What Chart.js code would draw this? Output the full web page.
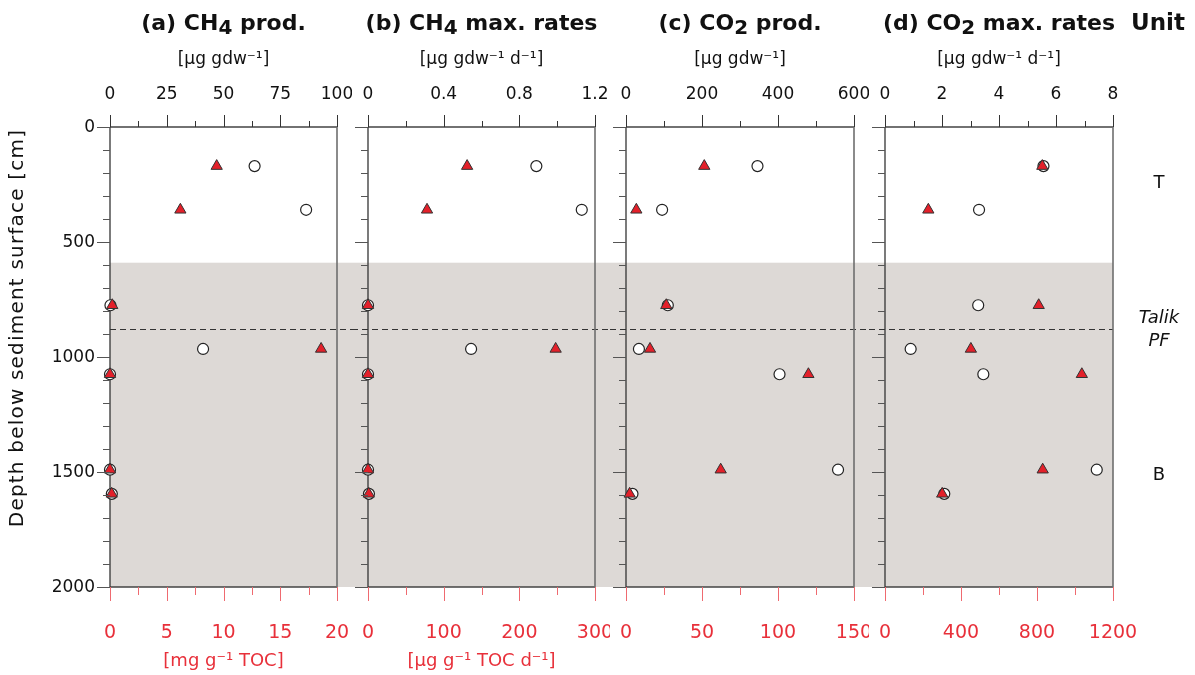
<!DOCTYPE html>
<html>
<head>
<meta charset="utf-8">
<script src="https://cdn.jsdelivr.net/npm/chart.js@4.4.1/dist/chart.umd.min.js"></script>
<style>
  body { margin: 0; background: #fff; }
  #wrap { position: relative; width: 1195px; height: 675px; overflow: hidden; }
  #wrap canvas { position: absolute; top: 0; }
</style>
</head>
<body>
<div id="wrap"></div>
<script>
// sample depths [cm]
var depths = [170, 360, 775, 965, 1075, 1490, 1595];

// open circles -> top axis (per g dry weight), red triangles -> bottom axis (per g TOC)
var ch4ProdGdw = [63.7, 86.4, 0.2, 41, 0, 0, 0.8];
var ch4ProdToc = [9.4, 6.2, 0.2, 18.6, 0, 0, 0.15];
var ch4RateGdw = [0.89, 1.13, 0, 0.545, 0, 0, 0.005];
var ch4RateToc = [131, 78, 0, 248, 0, 0, 1];
var co2ProdGdw = [346, 95, 110, 34, 404, 558, 17];
var co2ProdToc = [51.5, 6.8, 26.5, 15.8, 120, 62.3, 2.4];
var co2RateGdw = [5.56, 3.30, 3.27, 0.90, 3.45, 7.43, 2.08];
var co2RateToc = [828, 228, 809, 452, 1036, 830, 301];

// zones
var talikBase = 590;     // shaded from here down
var pfBoundary = 880;    // dashed line
var maxDepth = 2000;

// ticks
var depthMajor = [0, 500, 1000, 1500, 2000];
var depthMinor = [100, 200, 300, 400, 600, 700, 800, 900, 1100, 1200, 1300, 1400, 1600, 1700, 1800, 1900];
var topMax = [100, 1.2, 600, 8];
var topMajor = [[0, 25, 50, 75, 100], [0, 0.4, 0.8, 1.2], [0, 200, 400, 600], [0, 2, 4, 6, 8]];
var topMinor = [[12.5, 37.5, 62.5, 87.5], [0.2, 0.6, 1.0], [100, 300, 500], [1, 3, 5, 7]];
var botMax = [20, 300, 150, 1200];
var botMajor = [[0, 5, 10, 15, 20], [0, 100, 200, 300], [0, 50, 100, 150], [0, 400, 800, 1200]];
var botMinor = [[2.5, 7.5, 12.5, 17.5], [50, 150, 250], [25, 75, 125], [200, 600, 1000]];

var titles = [['(a) CH', '4', ' prod.'], ['(b) CH', '4', ' max. rates'], ['(c) CO', '2', ' prod.'], ['(d) CO', '2', ' max. rates']];
var topUnits = ['[µg gdw⁻¹]', '[µg gdw⁻¹ d⁻¹]', '[µg gdw⁻¹]', '[µg gdw⁻¹ d⁻¹]'];
var botUnits = ['[mg g⁻¹ TOC]', '[µg g⁻¹ TOC d⁻¹]', '', ''];
var zoneLabels = [['T', 245, false], ['Talik', 830, true], ['PF', 932, true], ['B', 1515, false]];

var gdwSeries = [ch4ProdGdw, ch4RateGdw, co2ProdGdw, co2RateGdw];
var tocSeries = [ch4ProdToc, ch4RateToc, co2ProdToc, co2RateToc];

// page layout of the four panels
var canvasLeft = [0, 352, 610, 869];
var canvasRight = [352, 610, 869, 1195];
var panelLeft = [110, 368, 626, 885];
var panelRight = [337, 595, 854, 1113];

var FONT = "'DejaVu Sans', sans-serif";
var RED = '#e8303a';
var RED_TICK = '#ef6a70';

function pts(xs) {
    return xs.map(function (v, i) { return { x: v, y: depths[i] }; });
}

function fmt(v) { return String(v); }

var panelPlugin = {
    id: 'panelPlugin',
    beforeDatasetsDraw: function (chart) {
        var p = chart.options.plugins.panelPlugin;
        var ctx = chart.ctx, a = chart.chartArea, y = chart.scales.y;
        var bl = p.index === 0 ? a.left : 0;
        var br = p.index === 3 ? a.right : chart.width;
        ctx.save();
        // shaded talik/PF zone
        ctx.fillStyle = '#ddd9d6';
        var yt = y.getPixelForValue(talikBase), yb = y.getPixelForValue(maxDepth);
        ctx.fillRect(bl, yt, br - bl, yb - yt);
        // dashed boundary
        ctx.strokeStyle = '#333';
        ctx.lineWidth = 1;
        ctx.setLineDash([6, 4]);
        var yd = Math.round(y.getPixelForValue(pfBoundary)) + 0.5;
        ctx.beginPath(); ctx.moveTo(bl, yd); ctx.lineTo(br, yd); ctx.stroke();
        ctx.setLineDash([]);
        // frame
        ctx.lineWidth = 1.3;
        ctx.strokeStyle = '#444';
        ctx.beginPath();
        ctx.moveTo(a.left, a.top); ctx.lineTo(a.right, a.top);
        ctx.moveTo(a.left, a.bottom); ctx.lineTo(a.right, a.bottom);
        ctx.stroke();
        ctx.strokeStyle = '#333';
        ctx.beginPath(); ctx.moveTo(a.left, a.top); ctx.lineTo(a.left, a.bottom); ctx.stroke();
        ctx.strokeStyle = '#6e6e6e';
        ctx.lineWidth = 1.6;
        ctx.beginPath(); ctx.moveTo(a.right, a.top); ctx.lineTo(a.right, a.bottom); ctx.stroke();
        ctx.restore();
    },
    afterDraw: function (chart) {
        var p = chart.options.plugins.panelPlugin;
        var i = p.index;
        var ctx = chart.ctx, a = chart.chartArea;
        var y = chart.scales.y, xt = chart.scales.xTop, xb = chart.scales.xBot;
        var cx = (a.left + a.right) / 2;
        ctx.save();
        ctx.lineWidth = 1;

        // depth ticks
        ctx.strokeStyle = '#555';
        ctx.beginPath();
        depthMinor.forEach(function (d) {
            var py = Math.round(y.getPixelForValue(d)) + 0.5;
            ctx.moveTo(a.left - 7, py); ctx.lineTo(a.left, py);
        });
        depthMajor.forEach(function (d) {
            var py = Math.round(y.getPixelForValue(d)) + 0.5;
            ctx.moveTo(a.left - 13, py); ctx.lineTo(a.left, py);
        });
        ctx.stroke();
        if (i === 0) {
            ctx.fillStyle = '#111';
            ctx.font = '17px ' + FONT;
            ctx.textAlign = 'right';
            ctx.textBaseline = 'middle';
            depthMajor.forEach(function (d) {
                ctx.fillText(fmt(d), a.left - 15, y.getPixelForValue(d) + 1);
            });
            ctx.save();
            ctx.translate(18, 328);
            ctx.rotate(-Math.PI / 2);
            ctx.textAlign = 'center';
            ctx.font = '20px ' + FONT;
            ctx.letterSpacing = '1.2px';
            ctx.fillText('Depth below sediment surface [cm]', 0, 0);
            ctx.restore();
        }

        // top axis
        ctx.strokeStyle = '#333';
        ctx.beginPath();
        topMinor[i].forEach(function (v) {
            var px = Math.round(xt.getPixelForValue(v)) + 0.5;
            ctx.moveTo(px, a.top); ctx.lineTo(px, a.top - 6);
        });
        topMajor[i].forEach(function (v) {
            var px = Math.round(xt.getPixelForValue(v)) + 0.5;
            ctx.moveTo(px, a.top); ctx.lineTo(px, a.top - 12);
        });
        ctx.stroke();
        ctx.fillStyle = '#111';
        ctx.font = '17px ' + FONT;
        ctx.textAlign = 'center';
        ctx.textBaseline = 'middle';
        topMajor[i].forEach(function (v) {
            ctx.fillText(fmt(v), xt.getPixelForValue(v), 95);
        });
        ctx.font = '17px ' + FONT;
        ctx.fillText(topUnits[i], cx, 60);

        // bottom (red) axis
        ctx.strokeStyle = RED_TICK;
        ctx.beginPath();
        botMinor[i].forEach(function (v) {
            var px = Math.round(xb.getPixelForValue(v)) + 0.5;
            ctx.moveTo(px, a.bottom); ctx.lineTo(px, a.bottom + 8);
        });
        botMajor[i].forEach(function (v) {
            var px = Math.round(xb.getPixelForValue(v)) + 0.5;
            ctx.moveTo(px, a.bottom); ctx.lineTo(px, a.bottom + 14);
        });
        ctx.stroke();
        ctx.fillStyle = RED;
        ctx.font = '19px ' + FONT;
        botMajor[i].forEach(function (v) {
            ctx.fillText(fmt(v), xb.getPixelForValue(v), 633);
        });
        if (botUnits[i]) {
            ctx.font = '18px ' + FONT;
            ctx.fillText(botUnits[i], cx, 661);
        }

        // title with subscript
        var t = titles[i];
        ctx.fillStyle = '#111';
        ctx.textAlign = 'left';
        ctx.textBaseline = 'alphabetic';
        ctx.font = 'bold 22px ' + FONT;
        var w1 = ctx.measureText(t[0]).width, w3 = ctx.measureText(t[2]).width;
        ctx.font = 'bold 20px ' + FONT;
        var w2 = ctx.measureText(t[1]).width;
        var x0 = cx - (w1 + w2 + w3) / 2;
        ctx.font = 'bold 22px ' + FONT;
        ctx.fillText(t[0], x0, 30);
        ctx.font = 'bold 20px ' + FONT;
        ctx.fillText(t[1], x0 + w1, 34);
        ctx.font = 'bold 22px ' + FONT;
        ctx.fillText(t[2], x0 + w1 + w2, 30);

        if (i === 3) {
            ctx.textAlign = 'center';
            ctx.font = 'bold 23px ' + FONT;
            ctx.fillText('Unit', 1158 - canvasLeft[3], 30);
            ctx.textBaseline = 'middle';
            zoneLabels.forEach(function (z) {
                ctx.font = (z[2] ? 'italic ' : '') + '18px ' + FONT;
                ctx.fillText(z[0], 1159 - canvasLeft[3], y.getPixelForValue(z[1]));
            });
        }
        ctx.restore();
    }
};

var wrap = document.getElementById('wrap');
for (var i = 0; i < 4; i++) {
    var cv = document.createElement('canvas');
    var w = canvasRight[i] - canvasLeft[i];
    cv.width = w; cv.height = 675;
    cv.style.left = canvasLeft[i] + 'px';
    cv.style.width = w + 'px'; cv.style.height = '675px';
    wrap.appendChild(cv);
    new Chart(cv.getContext('2d'), {
        type: 'scatter',
        data: {
            datasets: [{
                label: 'per g TOC',
                data: pts(tocSeries[i]),
                xAxisID: 'xBot', yAxisID: 'y',
                pointStyle: 'triangle',
                pointRadius: 6.5,
                backgroundColor: '#e3202a',
                borderColor: '#333',
                borderWidth: 1,
                clip: false
            }, {
                label: 'per gdw',
                data: pts(gdwSeries[i]),
                xAxisID: 'xTop', yAxisID: 'y',
                pointStyle: 'circle',
                pointRadius: 5.5,
                backgroundColor: '#fff',
                borderColor: '#222',
                borderWidth: 1.2,
                clip: false
            }]
        },
        options: {
            responsive: false,
            animation: false,
            events: [],
            layout: {
                padding: {
                    left: panelLeft[i] - canvasLeft[i],
                    right: canvasRight[i] - panelRight[i],
                    top: 127,
                    bottom: 88
                }
            },
            plugins: {
                legend: { display: false },
                tooltip: { enabled: false },
                panelPlugin: { index: i }
            },
            scales: {
                xTop: { type: 'linear', axis: 'x', position: 'top', min: 0, max: topMax[i], display: false },
                xBot: { type: 'linear', axis: 'x', position: 'bottom', min: 0, max: botMax[i], display: false },
                y: { type: 'linear', reverse: true, min: 0, max: maxDepth, display: false }
            }
        },
        plugins: [panelPlugin]
    });
}
</script>
</body>
</html>
